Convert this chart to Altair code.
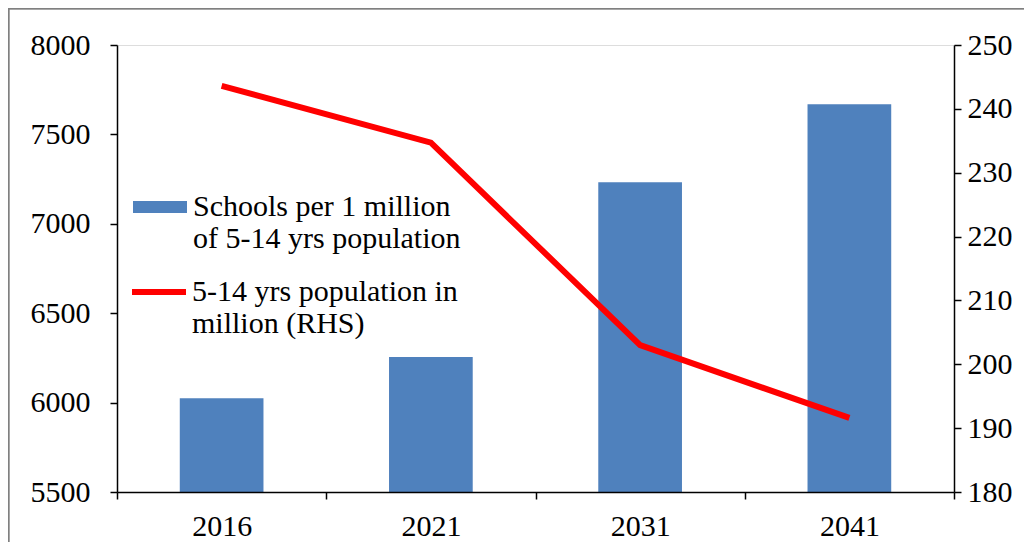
import altair as alt
import pandas as pd

years = ["2016", "2021", "2031", "2041"]
schools = [6025, 6255, 7232, 7668]
population = [243.6, 234.7, 203.0, 191.6]
bar_label = "Schools per 1 million|of 5-14 yrs population"
line_label = "5-14 yrs population in|million (RHS)"
left_ticks = [5500, 6000, 6500, 7000, 7500, 8000]
right_ticks = [180, 190, 200, 210, 220, 230, 240, 250]

df = pd.DataFrame({"year": years, "schools": schools, "pop": population,
                   "bar_series": bar_label, "line_series": line_label})

FONT = "Liberation Serif"
FS = 30

x = alt.X("year:N", sort=years, title=None,
          scale=alt.Scale(paddingInner=0, paddingOuter=0),
          axis=alt.Axis(labelAngle=0, tickBand="extent", tickSize=7, labelPadding=12,
                        domainColor="black", tickColor="black", tickWidth=1.5, domainWidth=1.5,
                        labelFont=FONT, labelFontSize=FS, labelColor="black", zindex=1))

bar_path = "M-1,-0.222 L1,-0.222 L1,0.222 L-1,0.222 Z"
line_path = "M-1,0 L1,0"

bars = alt.Chart(df).mark_bar(color="#4F81BD", clip=True,
                              width=alt.RelativeBandSize(0.4)).encode(
    x=x,
    y=alt.Y("schools:Q", title=None,
            scale=alt.Scale(domain=[5500, 8000], nice=False, zero=False),
            axis=alt.Axis(orient="left", values=left_ticks, format="d", tickSize=7,
                          labelPadding=20, grid=False, domainColor="black", tickColor="black",
                          tickWidth=1.5, domainWidth=1.5,
                          labelFont=FONT, labelFontSize=FS, labelColor="black")),
    fill=alt.Fill("bar_series:N", title=None,
                  scale=alt.Scale(domain=[bar_label], range=["#4F81BD"]),
                  legend=alt.Legend(orient="none", legendX=16, legendY=135,
                                    symbolType=bar_path, symbolSize=2916,
                                    symbolStrokeWidth=0, symbolOpacity=1,
                                    labelExpr="split(datum.label, '|')",
                                    labelFont=FONT, labelFontSize=FS, labelColor="black",
                                    labelLimit=0, labelOffset=6,
                                    labelBaseline="middle")),
)

line = alt.Chart(df).mark_line(strokeWidth=6, color="#FF0000").encode(
    x=x,
    y=alt.Y("pop:Q", title=None,
            scale=alt.Scale(domain=[180, 250], nice=False, zero=False),
            axis=alt.Axis(orient="right", values=right_ticks, format="d", tickSize=7,
                          labelPadding=6, grid=False, domainColor="black", tickColor="black",
                          tickWidth=1.5, domainWidth=1.5,
                          labelFont=FONT, labelFontSize=FS, labelColor="black")),
    stroke=alt.Stroke("line_series:N", title=None,
                      scale=alt.Scale(domain=[line_label], range=["#FF0000"]),
                      legend=alt.Legend(orient="none", legendX=12, legendY=217,
                                        symbolType=line_path, symbolSize=2916,
                                        symbolStrokeWidth=6,
                                        labelExpr="split(datum.label, '|')",
                                        labelFont=FONT, labelFontSize=FS, labelColor="black",
                                        labelLimit=0, labelOffset=3,
                                        labelBaseline="middle")),
)

frame = alt.Chart(df).mark_rect(fill=None, stroke="#808080", strokeWidth=1.5).encode(
    x=alt.value(-108.5), x2=alt.value(960), y=alt.value(-36.5), y2=alt.value(560)
)

chart = alt.layer(frame, bars, line).resolve_scale(
    y="independent", fill="independent", stroke="independent"
).properties(
    width=837, height=447,
    autosize=alt.AutoSizeParams(type="none"),
    padding={"left": 109, "top": 37, "right": 70, "bottom": 50},
).configure_view(stroke=None).configure_axis(
    labelFont=FONT, labelFontSize=FS, labelColor="black"
).configure(background="white")

chart.save("out.html", embed_options={"renderer": "svg", "actions": False})
